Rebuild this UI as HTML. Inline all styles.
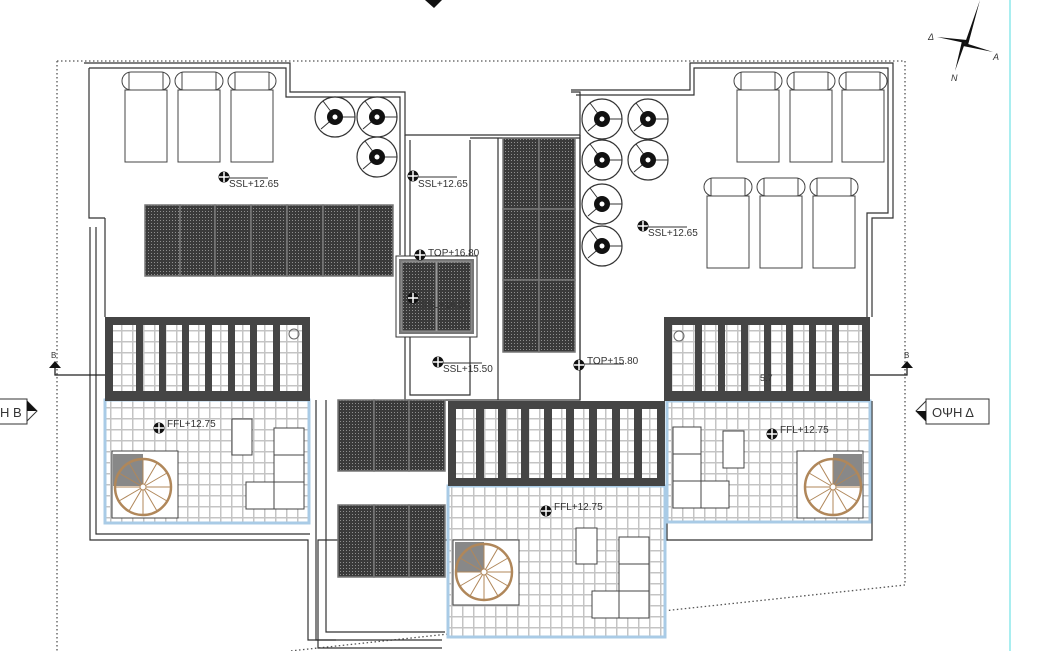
<!DOCTYPE html>
<html><head><meta charset="utf-8"><style>
html,body{margin:0;padding:0;background:#fff;width:1053px;height:651px;overflow:hidden}
svg{display:block}
text{font-family:"Liberation Sans",sans-serif;fill:#333}
</style></head><body>
<svg width="1053" height="651" viewBox="0 0 1053 651" xmlns="http://www.w3.org/2000/svg">
<defs>
<pattern id="tile" width="11" height="11" patternUnits="userSpaceOnUse">
<rect width="11" height="11" fill="#fff"/><path d="M0 0.75H11M0.75 0V11" stroke="#c4c4c4" stroke-width="1.5"/>
</pattern>
<pattern id="sol" width="3" height="3" patternUnits="userSpaceOnUse">
<rect width="3" height="3" fill="#3a3a3a"/><rect x="1" y="1" width="1" height="1" fill="#8f8f8f"/>
</pattern>
<g id="park">
<circle r="20" fill="#fff" stroke="#333" stroke-width="1.2"/>
<path d="M0 0L-12 -16M0 0L-14 12M0 0L20 0" stroke="#333" stroke-width="1"/>
<circle r="8" fill="#111"/><circle r="2.5" fill="#fff"/>
</g>
<g id="bed">
<rect x="0" y="18" width="42" height="72" fill="#fff" stroke="#444"/>
<rect x="-3" y="0" width="48" height="18" rx="9" fill="#fff" stroke="#444"/>
<path d="M4 0V18M38 0V18" stroke="#444"/>
</g>
<g id="mk"><circle r="5.5" fill="#111"/><path d="M-5 0H5M0 -5V5" stroke="#fff" stroke-width="1.5"/></g>
<g id="stair">
<circle r="28" fill="none" stroke="#b0875a" stroke-width="2.5"/>
<path d="M0 0L28 0M0 0L24 14M0 0L14 24M0 0L0 28M0 0L-14 24M0 0L-24 14M0 0L-28 0M0 0L-24 -14M0 0L-14 -24M0 0L0 -28M0 0L14 -24M0 0L24 -14" stroke="#b0875a" stroke-width="1"/>
<circle r="3" fill="#fff" stroke="#b0875a"/>
</g>
</defs>

<path d="M57 61H905V585L290 651M57 61V651" fill="none" stroke="#555" stroke-width="1.3" stroke-dasharray="1.5 2.5"/>
<line x1="1010" y1="0" x2="1010" y2="651" stroke="#a9eef0" stroke-width="2"/>

<g fill="none" stroke="#333" stroke-width="1.2">
<path d="M84 63H290V92H405V135H580V92H571M571 90H690V63H893V218H872V317"/>
<path d="M89 68H286V97H400V255M105 218V317M89 68V218H105"/>
<path d="M576 95H694V68H888V213H867V317"/>
<path d="M90 227V540H308V640H442M96 227V534H310"/>
<path d="M665 522H667V540H318V648H442"/>
<path d="M872 401V540H665"/>
<path d="M405 135V400H580V135"/>
<path d="M410 140V395H470V140M470 138H580"/>
<path d="M498 138V400M580 135V400"/>
<path d="M316 400V640H336M326 400V632H445"/>
</g>

<use href="#bed" x="125" y="72"/><use href="#bed" x="178" y="72"/><use href="#bed" x="231" y="72"/>
<use href="#bed" x="737" y="72"/><use href="#bed" x="790" y="72"/><use href="#bed" x="842" y="72"/>
<use href="#bed" x="707" y="178"/><use href="#bed" x="760" y="178"/><use href="#bed" x="813" y="178"/>

<use href="#park" x="335" y="117"/><use href="#park" x="377" y="117"/><use href="#park" x="377" y="157"/>
<use href="#park" x="602" y="119"/><use href="#park" x="648" y="119"/><use href="#park" x="602" y="160"/><use href="#park" x="648" y="160"/><use href="#park" x="602" y="204"/><use href="#park" x="602" y="246"/>

<g stroke="#777" stroke-width="1.5" fill="url(#sol)">
<rect x="145" y="205" width="35" height="71"/><rect x="180" y="205" width="35" height="71"/><rect x="215" y="205" width="36" height="71"/><rect x="251" y="205" width="36" height="71"/><rect x="287" y="205" width="36" height="71"/><rect x="323" y="205" width="36" height="71"/><rect x="359" y="205" width="34" height="71"/>
<rect x="503" y="138" width="36" height="71"/><rect x="539" y="138" width="36" height="71"/>
<rect x="503" y="209" width="36" height="71"/><rect x="539" y="209" width="36" height="71"/>
<rect x="503" y="280" width="36" height="72"/><rect x="539" y="280" width="36" height="72"/>
<rect x="338" y="400" width="36" height="71"/><rect x="374" y="400" width="35" height="71"/><rect x="409" y="400" width="36" height="71"/>
<rect x="338" y="505" width="36" height="72"/><rect x="374" y="505" width="35" height="72"/><rect x="409" y="505" width="36" height="72"/>
</g>
<rect x="396" y="256" width="81" height="81" fill="#fff" stroke="#333"/>
<rect x="399" y="259" width="75" height="75" fill="#777"/>
<g stroke="#999" stroke-width="1" fill="url(#sol)">
<rect x="402" y="262" width="34" height="69"/><rect x="437" y="262" width="34" height="69"/>
</g>

<rect x="105" y="400" width="204" height="123" fill="url(#tile)" stroke="#a9cbe6" stroke-width="3"/>
<rect x="448" y="486" width="217" height="151" fill="url(#tile)" stroke="#a9cbe6" stroke-width="3"/>
<rect x="667" y="401" width="203" height="121" fill="url(#tile)" stroke="#a9cbe6" stroke-width="3"/>

<g>
<rect x="105" y="317" width="205" height="84" fill="#454545"/>
<rect x="113" y="325" width="189" height="66" fill="url(#tile)"/>
<g fill="#454545"><rect x="136" y="325" width="7" height="66"/><rect x="159" y="325" width="7" height="66"/><rect x="182" y="325" width="7" height="66"/><rect x="205" y="325" width="7" height="66"/><rect x="228" y="325" width="7" height="66"/><rect x="250" y="325" width="7" height="66"/><rect x="273" y="325" width="7" height="66"/></g>
<circle cx="294" cy="334" r="5" fill="none" stroke="#666"/>
<rect x="448" y="401" width="217" height="85" fill="#454545"/>
<rect x="456" y="409" width="201" height="69" fill="url(#tile)"/>
<g fill="#454545"><rect x="476" y="409" width="8" height="69"/><rect x="498" y="409" width="8" height="69"/><rect x="521" y="409" width="8" height="69"/><rect x="544" y="409" width="8" height="69"/><rect x="566" y="409" width="8" height="69"/><rect x="589" y="409" width="8" height="69"/><rect x="612" y="409" width="8" height="69"/><rect x="634" y="409" width="8" height="69"/></g>
<rect x="664" y="317" width="206" height="84" fill="#454545"/>
<rect x="672" y="325" width="190" height="66" fill="url(#tile)"/>
<g fill="#454545"><rect x="695" y="325" width="7" height="66"/><rect x="718" y="325" width="7" height="66"/><rect x="741" y="325" width="7" height="66"/><rect x="764" y="325" width="7" height="66"/><rect x="786" y="325" width="7" height="66"/><rect x="809" y="325" width="7" height="66"/><rect x="832" y="325" width="7" height="66"/></g>
<circle cx="679" cy="336" r="5" fill="none" stroke="#666"/>
</g>

<g fill="#fff" stroke="#444">
<rect x="232" y="419" width="20" height="36"/><rect x="274" y="428" width="30" height="27"/><rect x="274" y="455" width="30" height="27"/><rect x="274" y="482" width="30" height="27"/><rect x="246" y="482" width="28" height="27"/>
<rect x="576" y="528" width="21" height="36"/><rect x="619" y="537" width="30" height="27"/><rect x="619" y="564" width="30" height="27"/><rect x="619" y="591" width="30" height="27"/><rect x="592" y="591" width="27" height="27"/>
<rect x="723" y="431" width="21" height="37"/><rect x="673" y="427" width="28" height="27"/><rect x="673" y="454" width="28" height="27"/><rect x="673" y="481" width="28" height="27"/><rect x="701" y="481" width="28" height="27"/>
<rect x="112" y="451" width="66" height="67"/><rect x="453" y="540" width="66" height="65"/><rect x="797" y="451" width="66" height="67"/>
</g>
<rect x="113" y="454" width="30" height="32" fill="#888"/>
<rect x="455" y="542" width="29" height="30" fill="#888"/>
<rect x="833" y="454" width="29" height="32" fill="#888"/>
<use href="#stair" x="143" y="487"/><use href="#stair" x="484" y="572"/><use href="#stair" x="833" y="487"/>

<g font-size="10">
<use href="#mk" x="224" y="177"/><line x1="228" y1="178" x2="268" y2="178" stroke="#333"/><text x="229" y="187">SSL+12.65</text>
<use href="#mk" x="413" y="176"/><line x1="417" y1="177" x2="457" y2="177" stroke="#333"/><text x="418" y="187">SSL+12.65</text>
<use href="#mk" x="643" y="226"/><line x1="647" y1="227" x2="687" y2="227" stroke="#333"/><text x="648" y="236">SSL+12.65</text>
<use href="#mk" x="420" y="255"/><text x="428" y="256">TOP+16.80</text>
<use href="#mk" x="413" y="298"/><text x="420" y="308" fill="#222">SSL+16.50</text>
<use href="#mk" x="438" y="362"/><line x1="442" y1="363" x2="482" y2="363" stroke="#333"/><text x="443" y="372">SSL+15.50</text>
<use href="#mk" x="579" y="365"/><line x1="584" y1="364" x2="624" y2="364" stroke="#333"/><text x="587" y="364">TOP+15.80</text>
<use href="#mk" x="159" y="428"/><text x="167" y="427">FFL+12.75</text>
<use href="#mk" x="546" y="511"/><text x="554" y="510">FFL+12.75</text>
<use href="#mk" x="772" y="434"/><text x="780" y="433">FFL+12.75</text>
<text x="760" y="381" font-size="9">5.7</text>
</g>

<path d="M105 375H55V368" fill="none" stroke="#222" stroke-width="1.3"/>
<path d="M49 368L55 361L61 368Z" fill="#111"/><text x="51" y="358" font-size="8">B</text>
<path d="M870 375H907V368" fill="none" stroke="#222" stroke-width="1.3"/>
<path d="M901 368L907 361L913 368Z" fill="#111"/><text x="904" y="358" font-size="8">B</text>
<rect x="-5" y="399" width="32" height="25" fill="#fff" stroke="#333"/>
<path d="M27 401L37 411L27 421Z" fill="#fff" stroke="#333"/><path d="M27 401L37 411H27Z" fill="#111"/>
<text x="0" y="417" font-size="13">Η Β</text>
<rect x="926" y="399" width="63" height="25" fill="#fff" stroke="#333"/>
<path d="M926 401L916 411L926 421Z" fill="#fff" stroke="#333"/><path d="M926 411L916 411L926 421Z" fill="#111"/>
<text x="932" y="417" font-size="13">ΟΨΗ Δ</text>

<path d="M425 0L434 8L442 0Z" fill="#111"/>

<g transform="translate(965,43)">
<path d="M0 0L15 -43L3 2Z" fill="#111"/><path d="M0 0L-10 28L-3 -2Z" fill="#111"/>
<path d="M0 0L-28 -6L2 -3Z" fill="#111"/><path d="M0 0L28 9L-2 3Z" fill="#111"/>
<text x="-37" y="-3" font-size="9" fill="#666" font-style="italic">Δ</text>
<text x="28" y="17" font-size="9" fill="#666" font-style="italic">A</text>
<text x="-14" y="38" font-size="9" fill="#666" font-style="italic">N</text>
</g>
</svg>
</body></html>
